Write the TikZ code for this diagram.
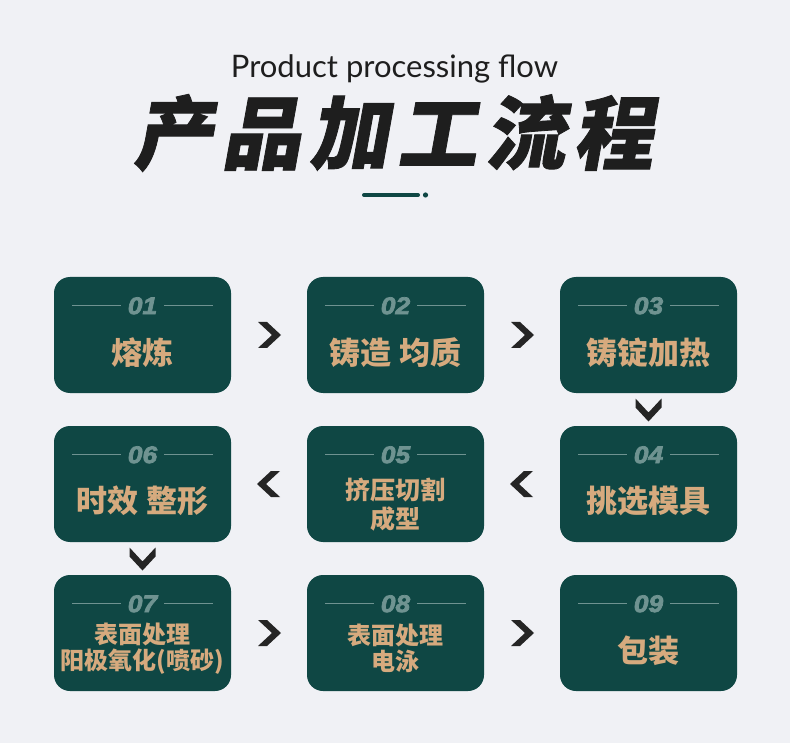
\documentclass[tikz,border=0pt]{standalone}
\usepackage{fontspec}
\usetikzlibrary{calc}
\setmainfont{Liberation Sans}
\newfontfamily\cjk{Noto Sans CJK SC}
\newfontfamily\cjkblack{Noto Sans CJK SC Black}[FakeSlant=0.18,LetterSpace=10,FakeBold=1]
\newfontfamily\latofont{Lato}
\newfontfamily\numfont{Liberation Sans}[UprightFont={* Bold Italic},FakeBold=3,FakeStretch=1.1]
\definecolor{bgc}{HTML}{F0F1F5}
\definecolor{boxc}{HTML}{0F4744}
\definecolor{tanc}{HTML}{D6AA7E}
\definecolor{numc}{HTML}{6F9391}
\definecolor{chevc}{HTML}{252525}
\definecolor{titlec}{HTML}{1E1E1E}
\begin{document}
\begin{tikzpicture}[x=1pt,y=-1pt,
  box/.style={fill=boxc, rounded corners=16pt, minimum width=177pt, minimum height=116pt, inner sep=0pt},
  num/.style={font=\numfont\fontsize{24}{24}\selectfont, text=numc, inner sep=0pt},
  numline/.style={draw=numc, line width=0.9pt},
  lbl/.style={font=\cjk\bfseries\fontsize{31}{34}\selectfont, text=tanc, align=center, inner sep=0pt},
  lbltwo/.style={font=\cjk\bfseries\fontsize{24}{26}\selectfont, text=tanc, align=center, inner sep=0pt},
  lblfive/.style={font=\cjk\bfseries\fontsize{25}{29}\selectfont, text=tanc, align=center, inner sep=0pt},
  chevron/.pic={\fill[chevc] (-11,-13) -- (-2,-13) -- (12,0) -- (-2,13) -- (-11,13) -- (3,0) -- cycle;}]
\fill[bgc] (0,0) rectangle (790,743);
\useasboundingbox (0,0) rectangle (790,743);
% titles
\node[font=\latofont\fontsize{31}{31}\selectfont, text=titlec, anchor=base, inner sep=0pt] (en) at (394.5,78) {Product processing flow};
\node[font=\cjkblack\fontsize{80}{80}\selectfont, text=titlec, inner sep=0pt] (cn) at (393,133) {产品加工流程};
\draw[boxc, line width=4pt, line cap=round] (364,195) -- (418,195);
\fill[boxc] (425.5,195) circle (2.6);
% boxes
\foreach \n/\x/\y/\num/\st/\t/\dy in {
  b1/142.5/335/01/lbl/熔炼/18,
  b2/395.5/335/02/lbl/铸造 均质/18,
  b3/648.5/335/03/lbl/铸锭加热/18,
  b4/648.5/484/04/lbl/挑选模具/17,
  b5/395.5/484/05/lblfive/{挤压切割\\成型}/21,
  b6/142.5/484/06/lbl/时效 整形/17,
  b7/142.5/633/07/lbltwo/{表面处理\\阳极氧化(喷砂)}/16,
  b8/395.5/633/08/lbltwo/{表面处理\\电泳}/15,
  b9/648.5/633/09/lbl/包装/18}{
  \node[box] (\n) at (\x,\y) {};
  \node[num] (\n-num) at ($(\n.north)+(0,29)$) {\num};
  \draw[numline] ($(\n.north)+(-70.5,29)$) -- ($(\n.north)+(-21.5,29)$);
  \draw[numline] ($(\n.north)+(21.5,29)$) -- ($(\n.north)+(70,29)$);
  \node[\st] (\n-t) at ($(\n.center)+(0,\dy)$) {\t};
}
% chevrons
\pic at ($(b1.east)!0.5!(b2.west)$) {chevron};
\pic at ($(b2.east)!0.5!(b3.west)$) {chevron};
\pic[rotate=-90] at ($(b3.south)!0.5!(b4.north)$) {chevron};
\pic[rotate=180] at ($(b4.west)!0.5!(b5.east)$) {chevron};
\pic[rotate=180] at ($(b5.west)!0.5!(b6.east)$) {chevron};
\pic[rotate=-90] at ($(b6.south)!0.5!(b7.north)$) {chevron};
\pic at ($(b7.east)!0.5!(b8.west)$) {chevron};
\pic at ($(b8.east)!0.5!(b9.west)$) {chevron};
\end{tikzpicture}
\end{document}
